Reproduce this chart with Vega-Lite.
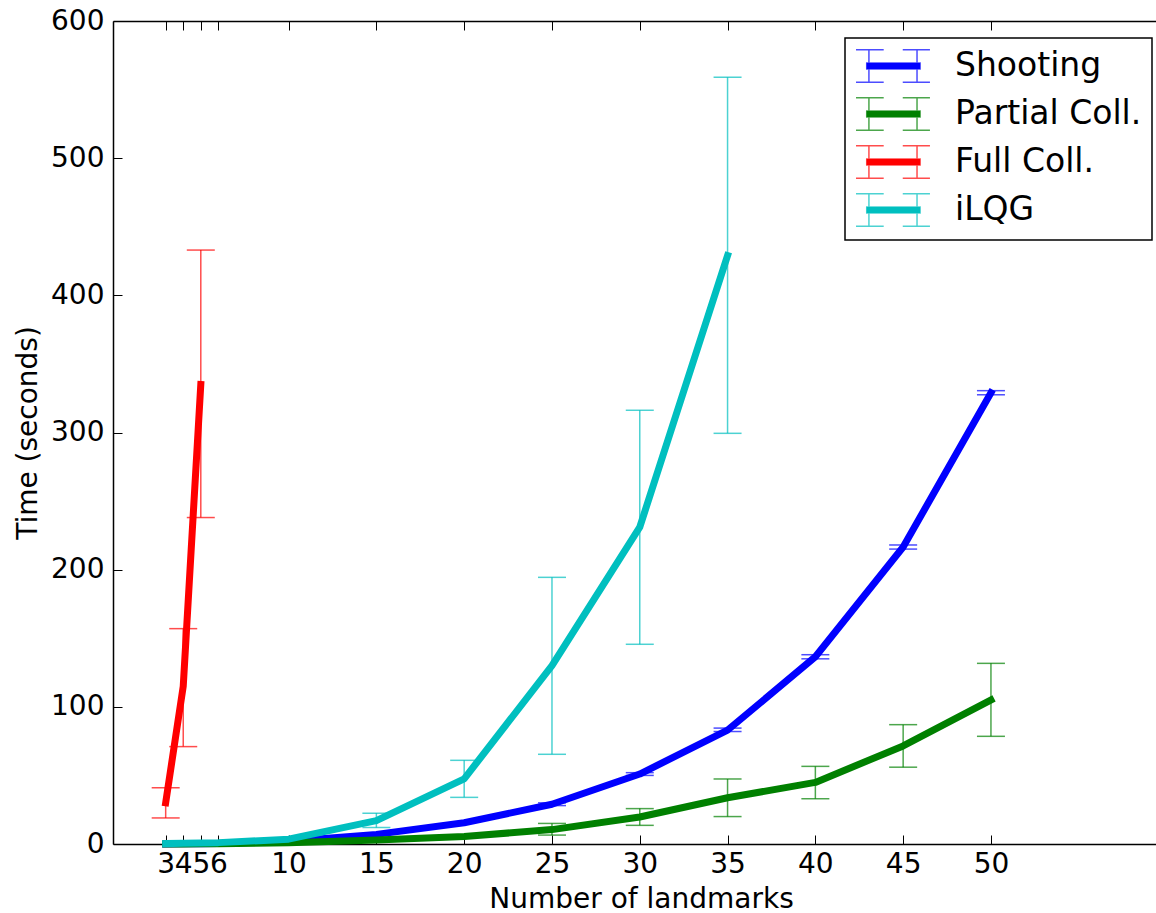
{
  "$schema": "https://vega.github.io/schema/vega-lite/v6.json",
  "autosize": "none",
  "padding": {"left": 113, "top": 21, "right": 0, "bottom": 69},
  "width": 1043,
  "height": 823,
  "background": "white",
  "config": {
    "view": {"stroke": null},
    "font": "DejaVu Sans",
    "axis": {
      "grid": false,
      "domainColor": "black",
      "domainWidth": 1.5,
      "tickColor": "black",
      "tickWidth": 1,
      "labelColor": "black",
      "titleColor": "black",
      "labelFont": "DejaVu Sans",
      "titleFont": "DejaVu Sans",
      "labelFontSize": 28,
      "titleFontSize": 28,
      "titleFontWeight": "normal"
    }
  },
  "data": {
    "values": [
      {"method": "Shooting", "x": 3, "mean": 0.05, "lo": null, "hi": null},
      {"method": "Shooting", "x": 4, "mean": 0.1, "lo": null, "hi": null},
      {"method": "Shooting", "x": 5, "mean": 0.2, "lo": null, "hi": null},
      {"method": "Shooting", "x": 6, "mean": 0.4, "lo": null, "hi": null},
      {"method": "Shooting", "x": 10, "mean": 2, "lo": null, "hi": null},
      {"method": "Shooting", "x": 15, "mean": 7, "lo": null, "hi": null},
      {"method": "Shooting", "x": 20, "mean": 15.5, "lo": null, "hi": null},
      {"method": "Shooting", "x": 25, "mean": 29, "lo": 28, "hi": 30},
      {"method": "Shooting", "x": 30, "mean": 51, "lo": 50, "hi": 52},
      {"method": "Shooting", "x": 35, "mean": 83, "lo": 82, "hi": 84.5},
      {"method": "Shooting", "x": 40, "mean": 136.5, "lo": 135, "hi": 138},
      {"method": "Shooting", "x": 45, "mean": 216.5, "lo": 215, "hi": 218},
      {"method": "Shooting", "x": 50, "mean": 329, "lo": 327.5, "hi": 330.5},
      {"method": "Partial Coll.", "x": 3, "mean": 0.05, "lo": null, "hi": null},
      {"method": "Partial Coll.", "x": 4, "mean": 0.08, "lo": null, "hi": null},
      {"method": "Partial Coll.", "x": 5, "mean": 0.12, "lo": null, "hi": null},
      {"method": "Partial Coll.", "x": 6, "mean": 0.2, "lo": null, "hi": null},
      {"method": "Partial Coll.", "x": 10, "mean": 1, "lo": null, "hi": null},
      {"method": "Partial Coll.", "x": 15, "mean": 3, "lo": null, "hi": null},
      {"method": "Partial Coll.", "x": 20, "mean": 5.5, "lo": null, "hi": null},
      {"method": "Partial Coll.", "x": 25, "mean": 10.5, "lo": 6.5, "hi": 15},
      {"method": "Partial Coll.", "x": 30, "mean": 19.7, "lo": 13.6, "hi": 25.8},
      {"method": "Partial Coll.", "x": 35, "mean": 33.7, "lo": 20, "hi": 47.4},
      {"method": "Partial Coll.", "x": 40, "mean": 44.9, "lo": 33, "hi": 56.6},
      {"method": "Partial Coll.", "x": 45, "mean": 71.5, "lo": 56, "hi": 87},
      {"method": "Partial Coll.", "x": 50, "mean": 105, "lo": 78.5, "hi": 131.7},
      {"method": "Full Coll.", "x": 3, "mean": 30, "lo": 19, "hi": 41},
      {"method": "Full Coll.", "x": 4, "mean": 115, "lo": 71, "hi": 157},
      {"method": "Full Coll.", "x": 5, "mean": 335, "lo": 238, "hi": 433},
      {"method": "iLQG", "x": 3, "mean": 0.3, "lo": null, "hi": null},
      {"method": "iLQG", "x": 4, "mean": 0.5, "lo": null, "hi": null},
      {"method": "iLQG", "x": 5, "mean": 0.8, "lo": null, "hi": null},
      {"method": "iLQG", "x": 6, "mean": 1, "lo": null, "hi": null},
      {"method": "iLQG", "x": 10, "mean": 3.5, "lo": null, "hi": null},
      {"method": "iLQG", "x": 15, "mean": 17, "lo": 12, "hi": 22.5},
      {"method": "iLQG", "x": 20, "mean": 47.5, "lo": 34, "hi": 61},
      {"method": "iLQG", "x": 25, "mean": 130, "lo": 65.4, "hi": 194.4},
      {"method": "iLQG", "x": 30, "mean": 231, "lo": 145.6, "hi": 316.2},
      {"method": "iLQG", "x": 35, "mean": 429, "lo": 299.4, "hi": 559}
    ]
  },
  "layer": [
    {
      "mark": {"type": "line", "strokeWidth": 7, "strokeCap": "square", "strokeJoin": "round"},
      "encoding": {
        "x": {
          "field": "x", "type": "quantitative",
          "scale": {"domain": [0, 59.4], "nice": false, "zero": false},
          "axis": {
            "orient": "bottom",
            "values": [3, 4, 5, 6, 10, 15, 20, 25, 30, 35, 40, 45, 50],
            "tickSize": -9,
            "labelPadding": 15,
            "labelOverlap": false,
            "labelFlush": false,
            "labelBound": false,
            "title": "Number of landmarks",
            "titleX": 528,
            "titleY": 63,
            "titleBaseline": "alphabetic"
          }
        },
        "y": {
          "field": "mean", "type": "quantitative",
          "scale": {"domain": [0, 600], "nice": false},
          "axis": {
            "values": [0, 100, 200, 300, 400, 500, 600],
            "tickSize": -9,
            "labelPadding": 18,
            "labelOverlap": false,
            "labelFlush": false,
            "labelBound": false,
            "title": "Time (seconds)",
            "titleX": -85,
            "titleBaseline": "middle"
          }
        },
        "color": {
          "field": "method", "type": "nominal",
          "scale": {
            "domain": ["Shooting", "Partial Coll.", "Full Coll.", "iLQG"],
            "range": ["#0000ff", "#008000", "#ff0000", "#00bfbf"]
          },
          "legend": {
            "orient": "none",
            "legendX": 732,
            "legendY": 17,
            "title": null,
            "strokeColor": "black",
            "fillColor": "white",
            "padding": 10,
            "cornerRadius": 0,
            "symbolType": "M-1,-0.96L0.63,-0.96M-0.24,-0.96L-0.24,0.96M-1,0.96L0.63,0.96M1.75,-0.96L3.35,-0.96M2.59,-0.96L2.59,0.96M1.75,0.96L3.35,0.96M-0.37,-0.18L2.77,-0.18L2.77,0.18L-0.37,0.18Z",
            "symbolSize": 1156,
            "symbolStrokeWidth": 1.5,
            "labelFontSize": 33,
            "labelFont": "DejaVu Sans",
            "labelColor": "black",
            "labelOffset": 64,
            "labelLimit": 0,
            "rowPadding": 8,
            "encode": {
              "legend": {
                "update": {
                  "strokeWidth": {"value": 1.5}
                }
              },
              "symbols": {
                "update": {
                  "fill": {"scale": "color", "field": "value"},
                  "fillOpacity": {"value": 1},
                  "strokeOpacity": {"value": 0.7}
                }
              }
            }
          }
        }
      }
    },
    {
      "mark": {"type": "rule", "strokeWidth": 1.5, "opacity": 0.7},
      "encoding": {
        "x": {
          "field": "x", "type": "quantitative",
          "axis": {
            "orient": "top",
            "values": [3, 4, 5, 6, 10, 15, 20, 25, 30, 35, 40, 45, 50],
            "tickSize": -9,
            "labels": false,
            "title": null
          }
        },
        "y": {"field": "lo", "type": "quantitative"},
        "y2": {"field": "hi"},
        "color": {"field": "method", "type": "nominal"}
      }
    },
    {
      "mark": {"type": "tick", "orient": "horizontal", "size": 28, "thickness": 1.5, "opacity": 0.7},
      "encoding": {
        "x": {"field": "x", "type": "quantitative", "axis": null},
        "y": {"field": "lo", "type": "quantitative"},
        "color": {"field": "method", "type": "nominal"}
      }
    },
    {
      "mark": {"type": "tick", "orient": "horizontal", "size": 28, "thickness": 1.5, "opacity": 0.7},
      "encoding": {
        "x": {"field": "x", "type": "quantitative", "axis": null},
        "y": {"field": "hi", "type": "quantitative"},
        "color": {"field": "method", "type": "nominal"}
      }
    }
  ],
  "resolve": {"axis": {"x": "independent"}}
}
